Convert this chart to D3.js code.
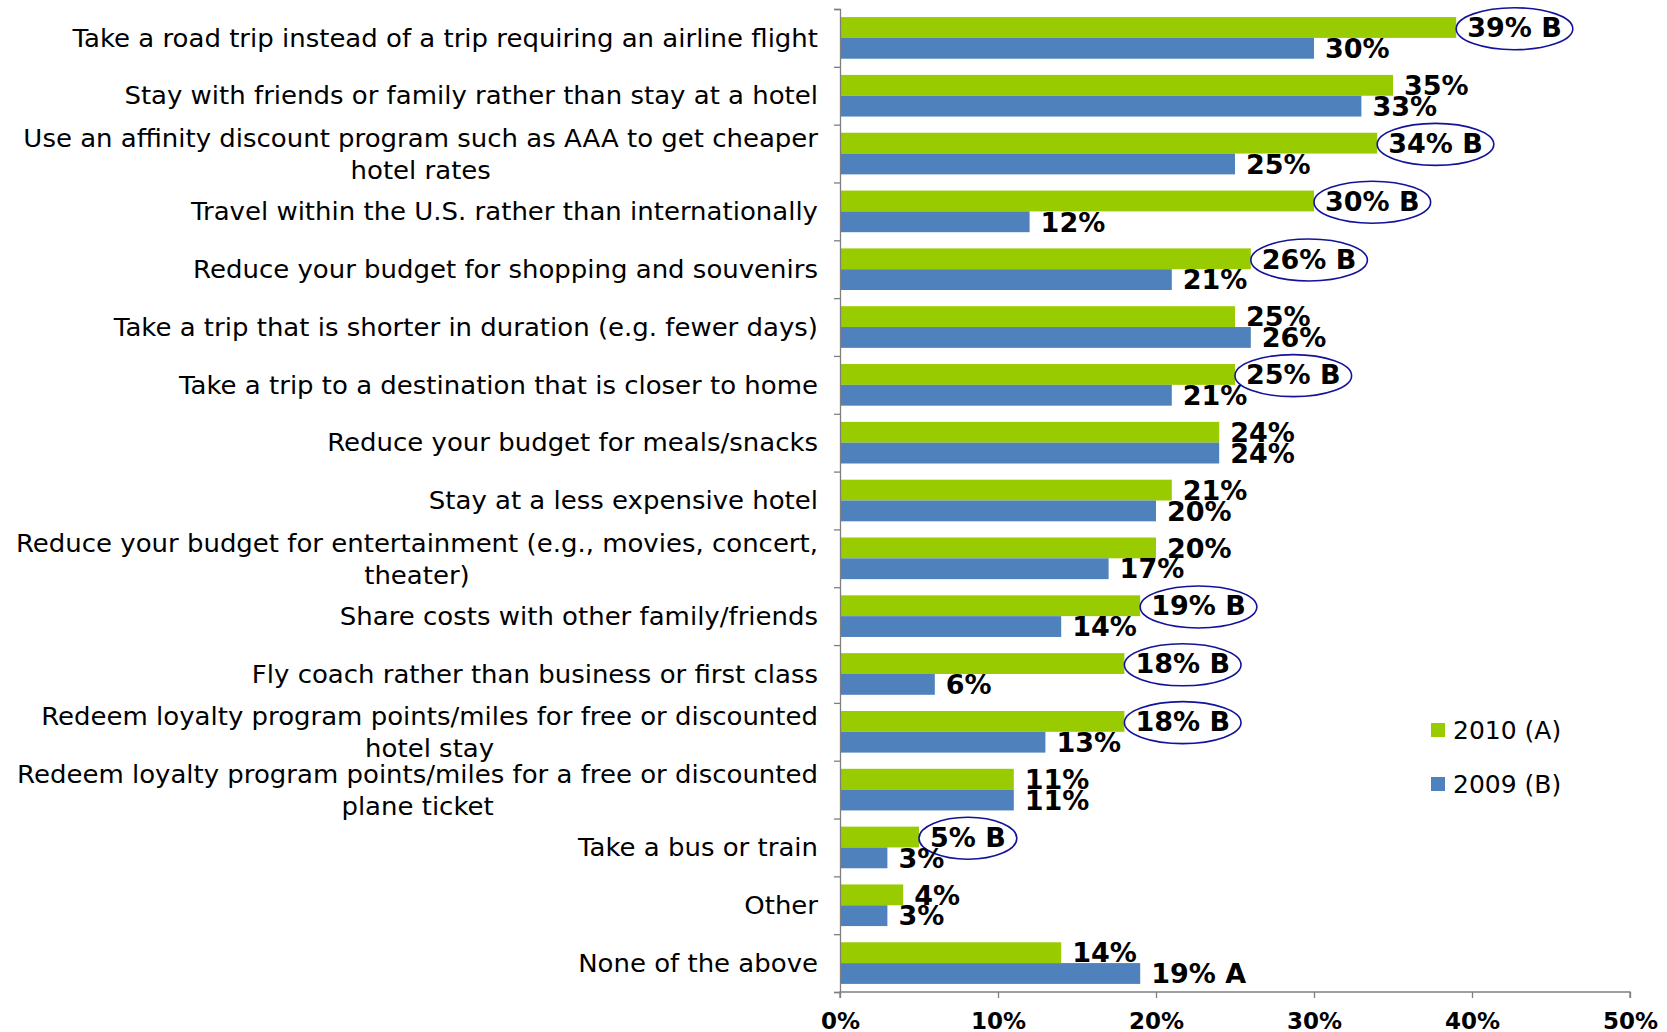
<!DOCTYPE html>
<html>
<head>
<meta charset="utf-8">
<script src="https://cdnjs.cloudflare.com/ajax/libs/d3/7.8.5/d3.min.js"></script>
<style>
  body { margin: 0; background: #fff; }
  svg { display: block; }
  .cat { font-family: "DejaVu Sans", Verdana, sans-serif; font-size: 24px; fill: #000; }
  .val { font-family: "DejaVu Sans", Verdana, sans-serif; font-size: 27px; font-weight: bold; fill: #000; }
  .x-axis text { font-family: "DejaVu Sans", Verdana, sans-serif; font-size: 23px; font-weight: bold; fill: #000; }
  .legend text { font-family: "DejaVu Sans", Verdana, sans-serif; font-size: 25px; fill: #000; }
</style>
</head>
<body>
<svg></svg>
<script>
const categories = [
  ["Take a road trip instead of a trip requiring an airline flight"],
  ["Stay with friends or family rather than stay at a hotel"],
  ["Use an affinity discount program such as AAA to get cheaper", "hotel rates"],
  ["Travel within the U.S. rather than internationally"],
  ["Reduce your budget for shopping and souvenirs"],
  ["Take a trip that is shorter in duration (e.g. fewer days)"],
  ["Take a trip to a destination that is closer to home"],
  ["Reduce your budget for meals/snacks"],
  ["Stay at a less expensive hotel"],
  ["Reduce your budget for entertainment (e.g., movies, concert,", "theater)"],
  ["Share costs with other family/friends"],
  ["Fly coach rather than business or first class"],
  ["Redeem loyalty program points/miles for free or discounted", "hotel stay"],
  ["Redeem loyalty program points/miles for a free or discounted", "plane ticket"],
  ["Take a bus or train"],
  ["Other"],
  ["None of the above"]
];
const values2010 = [39, 35, 34, 30, 26, 25, 25, 24, 21, 20, 19, 18, 18, 11, 5, 4, 14];
const values2009 = [30, 33, 25, 12, 21, 26, 21, 24, 20, 17, 14, 6, 13, 11, 3, 3, 19];
// significance letters shown after the value
const sig2010 = ["B", "", "B", "B", "B", "", "B", "", "", "", "B", "B", "B", "", "B", "", ""];
const sig2009 = ["", "", "", "", "", "", "", "", "", "", "", "", "", "", "", "", "A"];
const seriesNames = ["2010 (A)", "2009 (B)"];
const xTicks = [0, 10, 20, 30, 40, 50];

const colors = ["#99CC00", "#4F81BD"];

const margin = {top: 9, right: 37, bottom: 40, left: 840},
      width = 1667 - margin.left - margin.right,
      height = 1032 - margin.top - margin.bottom;

const svg = d3.select("svg")
    .attr("width", 1667)
    .attr("height", 1032)
  .append("g")
    .attr("transform", `translate(${margin.left},${margin.top})`);

const idx = d3.range(categories.length);

const x = d3.scaleLinear().domain([0, 50]).range([0, width]);

const y = d3.scaleBand()
    .domain(idx)
    .range([0, height])
    .paddingInner(0.28)
    .paddingOuter(0.14);

const y1 = d3.scaleBand()
    .domain([0, 1])
    .range([0, y.bandwidth()]);

// category boundary ticks on the vertical axis
const yTickScale = d3.scaleLinear().domain([0, categories.length]).range([0, height]);

const rows = idx.map(i => ({
  i,
  vals: [
    {s: 0, v: values2010[i], sig: sig2010[i]},
    {s: 1, v: values2009[i], sig: sig2009[i]}
  ]
}));

const groups = svg.selectAll(".row")
  .data(rows)
  .join("g")
    .attr("class", "row")
    .attr("transform", d => `translate(0,${y(d.i)})`);

groups.selectAll("rect")
  .data(d => d.vals)
  .join("rect")
    .attr("x", 0)
    .attr("y", d => y1(d.s))
    .attr("width", d => x(d.v))
    .attr("height", y1.bandwidth())
    .attr("fill", d => colors[d.s]);

const labels = groups.selectAll(".val")
  .data(d => d.vals)
  .join("text")
    .attr("class", "val")
    .attr("x", d => x(d.v) + 11)
    .attr("y", d => y1(d.s) + y1.bandwidth() / 2)
    .attr("dy", "0.36em")
    .text(d => d.v + "%" + (d.sig ? " " + d.sig : ""));

// circle the 2010 values that are significantly higher than 2009
labels.filter(d => d.s === 0 && d.sig === "B").each(function() {
  const b = this.getBBox();
  d3.select(this.parentNode).insert("ellipse", ".val")
    .attr("cx", b.x + b.width / 2)
    .attr("cy", b.y + b.height / 2 + 1)
    .attr("rx", b.width / 2 + 11)
    .attr("ry", 21)
    .attr("fill", "none")
    .attr("stroke", "#13139A")
    .attr("stroke-width", 1.6);
});

// category labels: right aligned, wrapped lines centred, stretched to the reference width
const catG = svg.append("g");
const probe = catG.append("text").attr("class", "cat").text(categories[0][0]);
const sx = 746 / probe.node().getComputedTextLength();
probe.remove();

categories.forEach((lines, i) => {
  const cy = y(i) + y.bandwidth() / 2;
  const g = catG.append("g")
      .attr("transform", `translate(-22,${cy}) scale(${sx},1)`);
  if (lines.length === 1) {
    g.append("text").attr("class", "cat")
        .attr("text-anchor", "end")
        .attr("dy", "0.36em")
        .text(lines[0]);
  } else {
    const t1 = g.append("text").attr("class", "cat")
        .attr("text-anchor", "end")
        .attr("y", -15)
        .attr("dy", "0.36em")
        .text(lines[0]);
    const w = t1.node().getComputedTextLength();
    g.append("text").attr("class", "cat")
        .attr("text-anchor", "middle")
        .attr("x", -w / 2)
        .attr("y", 17)
        .attr("dy", "0.36em")
        .text(lines[1]);
  }
});

// axes
svg.append("g")
    .attr("class", "y-axis")
    .call(d3.axisLeft(yTickScale).tickValues(d3.range(categories.length + 1)).tickFormat("").tickSize(6))
    .call(g => g.selectAll("line, path").attr("stroke", "#7f7f7f").attr("stroke-width", 1.3));

svg.append("g")
    .attr("class", "x-axis")
    .attr("transform", `translate(0,${height})`)
    .call(d3.axisBottom(x).tickValues(xTicks).tickFormat(d => d + "%").tickSize(6).tickPadding(15))
    .call(g => g.selectAll("line, path").attr("stroke", "#7f7f7f").attr("stroke-width", 1.3))
    .call(g => g.select(".domain").attr("d", `M0,6V0H${width}V6`));

svg.select(".x-axis").selectAll("text").attr("font-family", null).attr("font-size", null);

// legend
const legend = svg.append("g")
    .attr("class", "legend")
    .attr("transform", `translate(${1431 - margin.left},${723 - margin.top})`);

legend.selectAll("rect")
  .data(seriesNames)
  .join("rect")
    .attr("x", 0)
    .attr("y", (d, i) => i * 54)
    .attr("width", 14)
    .attr("height", 14)
    .attr("fill", (d, i) => colors[i]);

legend.selectAll("text")
  .data(seriesNames)
  .join("text")
    .attr("x", 22)
    .attr("y", (d, i) => i * 54 + 7)
    .attr("dy", "0.36em")
    .text(d => d);
</script>
</body>
</html>
